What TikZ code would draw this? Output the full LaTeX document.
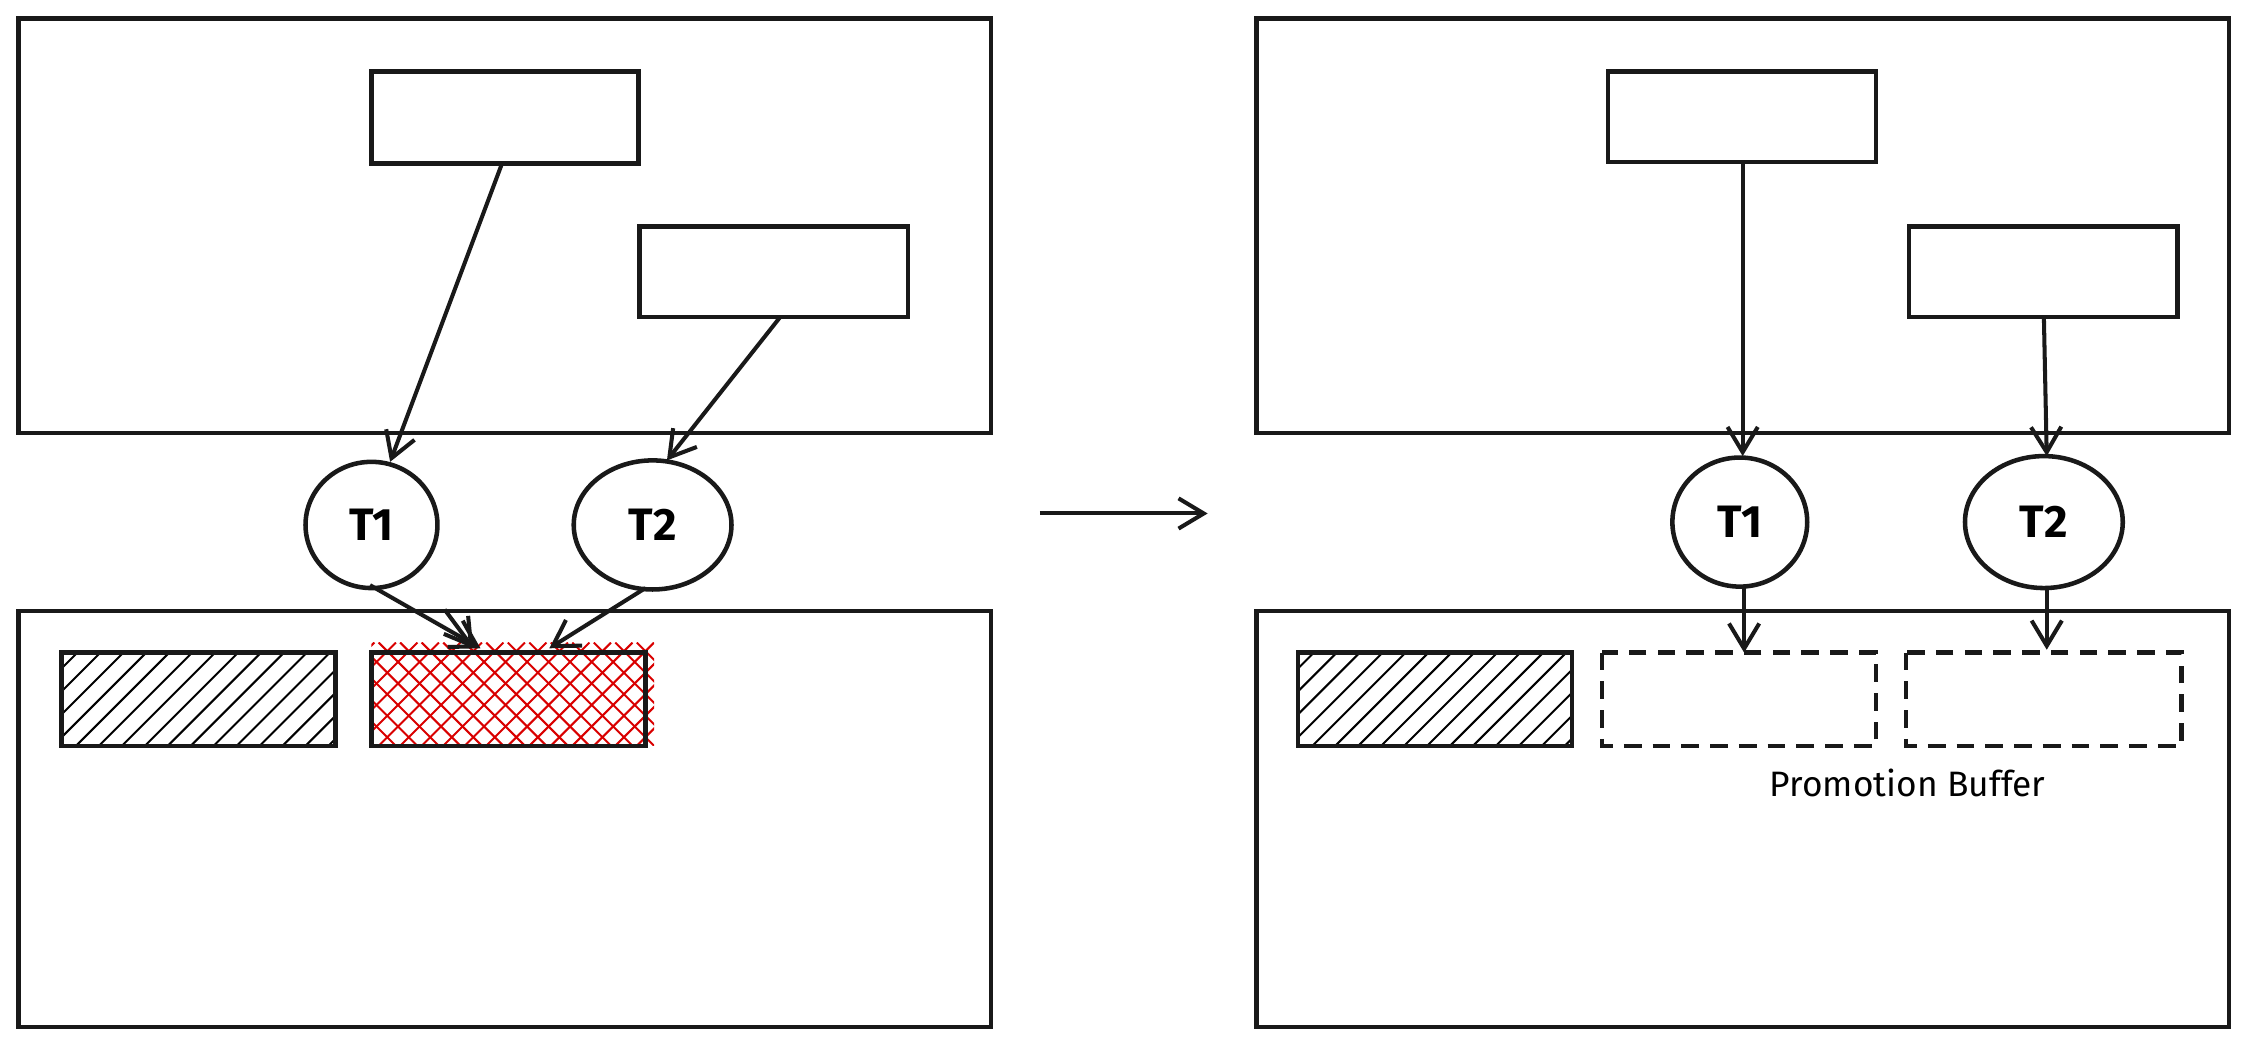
\documentclass[tikz,border=0pt]{standalone}
\usepackage{fontspec}
\setmainfont{Fira Sans}
\usetikzlibrary{arrows.meta}
\begin{document}
\begin{tikzpicture}[x=0.01cm,y=-0.01cm,
  frame/.style={draw=black!90,line width=0.9pt},
  blk/.style={draw=black!90,line width=0.9pt},
  thr/.style={draw=black!90,line width=0.9pt},
  con/.style={draw=black!90,line width=0.8pt,-{Straight Barb[length=5pt,width=6pt]}},
  lbl/.style={font=\fontsize{9}{10}\selectfont\bfseries},
  hatch/.style={line width=0.4pt}]
\useasboundingbox (0,0) rectangle (1568,731);
% left
\draw[frame] (13,13) rectangle (691,302);
\draw[frame] (13,426) rectangle (691,716);
\draw[blk] (259,50) rectangle (445,114);
\draw[blk] (446,158) rectangle (633,221);
\draw[thr] (259,366) ellipse (46 and 44);
\draw[thr] (455,366) ellipse (55 and 45);
\node[lbl] (T1) at (259,366) {T1};
\node[lbl] (T2) at (455,366) {T2};
\begin{scope}
\clip (43,455) rectangle (234,520);
\foreach \i in {0,...,17} \draw[hatch,black] (43+\i*16-70,520) -- ++(65,-65);
\end{scope}
\draw[blk] (43,455) rectangle (234,520);
\begin{scope}
\clip (259,448) rectangle (456,520);
\foreach \i in {0,...,20} {
  \draw[hatch,red!85!black] (259+\i*15-70,520) -- ++(72,-72);
  \draw[hatch,red!85!black] (259+\i*15-70,448) -- ++(72,72);}
\end{scope}
\draw[blk] (259,455) rectangle (450,520);
\coordinate (a1) at (350,114); \coordinate (t1t) at (272,322);
\coordinate (b1) at (544,221); \coordinate (t2t) at (465,321);
\draw[con] (a1) -- (t1t);
\draw[con] (b1) -- (t2t);
\coordinate (t1b) at (258,408); \coordinate (r1) at (335,452);
\coordinate (t1c) at (310,425); \coordinate (r0) at (330,452);
\coordinate (t2b) at (450,410); \coordinate (r2) at (383,452);
\draw[con] (t1b) -- (r1);
\draw[con] (t1c) -- (r0);
\draw[con] (t2b) -- (r2);
% middle
\coordinate (m1) at (725,358); \coordinate (m2) at (842,358);
\draw[con] (m1) -- (m2);
% right
\draw[frame] (876,13) rectangle (1554,302);
\draw[frame] (876,426) rectangle (1554,716);
\draw[blk] (1121,50) rectangle (1308,113);
\draw[blk] (1331,158) rectangle (1518,221);
\draw[thr] (1213,364) ellipse (47 and 45);
\draw[thr] (1425,364) ellipse (55 and 46);
\node[lbl] (U1) at (1213,364) {T1};
\node[lbl] (U2) at (1425,364) {T2};
\begin{scope}
\clip (905,455) rectangle (1096,520);
\foreach \i in {0,...,17} \draw[hatch,black] (905+\i*16-70,520) -- ++(65,-65);
\end{scope}
\draw[blk] (905,455) rectangle (1096,520);
\draw[blk,dash pattern=on 3.5pt off 2.2pt] (1117,455) rectangle (1308,520);
\draw[blk,dash pattern=on 3.5pt off 2.2pt] (1329,455) rectangle (1521,520);
\node[font=\fontsize{7}{8}\selectfont] (pb) at (1330,546) {Promotion Buffer};
\coordinate (c1) at (1215,113); \coordinate (u1t) at (1215,318);
\coordinate (d1) at (1425,221); \coordinate (u2t) at (1427,318);
\draw[con] (c1) -- (u1t);
\draw[con] (d1) -- (u2t);
\coordinate (u1b) at (1216,409); \coordinate (p1) at (1216,455);
\coordinate (u2b) at (1427,410); \coordinate (p2) at (1427,453);
\draw[con] (u1b) -- (p1);
\draw[con] (u2b) -- (p2);
\end{tikzpicture}
\end{document}
